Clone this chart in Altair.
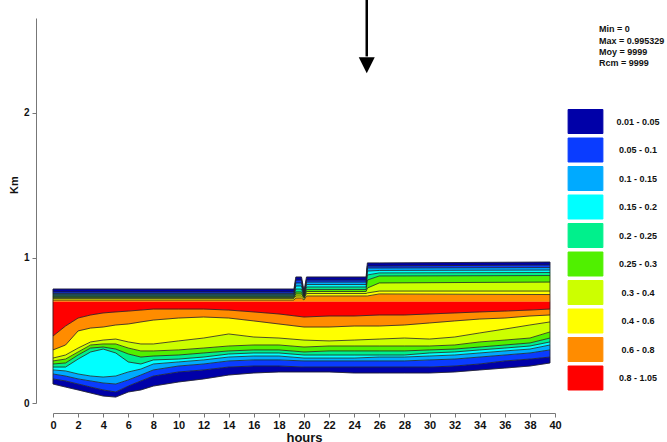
import altair as alt
import pandas as pd

# ---------------- data (km vs hours) ----------------
HOURS = [0, 1, 2, 3, 4, 5, 6, 7, 8, 10, 12, 14, 16, 18, 20, 22, 24, 26, 28, 30, 32, 34, 36, 38, 39.6]

# lower part of the profile: band boundaries from the ground surface upward
LOW_SURFACE = [0.131, 0.110, 0.090, 0.069, 0.048, 0.041, 0.076, 0.090, 0.117, 0.145, 0.166, 0.193, 0.207,
               0.214, 0.214, 0.214, 0.207, 0.207, 0.207, 0.207, 0.214, 0.228, 0.241, 0.255, 0.276]
LOW_005 = [0.166, 0.152, 0.131, 0.110, 0.090, 0.076, 0.117, 0.152, 0.186, 0.214, 0.228, 0.248, 0.255,
           0.255, 0.248, 0.248, 0.248, 0.248, 0.248, 0.248, 0.255, 0.269, 0.290, 0.303, 0.317]
LOW_010 = [0.200, 0.186, 0.166, 0.152, 0.138, 0.131, 0.159, 0.193, 0.228, 0.255, 0.269, 0.290, 0.297,
           0.297, 0.290, 0.290, 0.290, 0.290, 0.290, 0.297, 0.303, 0.317, 0.331, 0.345, 0.366]
LOW_015 = [0.228, 0.221, 0.200, 0.186, 0.179, 0.186, 0.214, 0.234, 0.269, 0.283, 0.297, 0.317, 0.324,
           0.324, 0.310, 0.310, 0.310, 0.317, 0.317, 0.324, 0.331, 0.345, 0.359, 0.372, 0.400]
LOW_020 = [0.248, 0.248, 0.303, 0.352, 0.372, 0.345, 0.283, 0.269, 0.297, 0.303, 0.317, 0.338, 0.345,
           0.345, 0.331, 0.331, 0.331, 0.331, 0.331, 0.345, 0.352, 0.366, 0.379, 0.393, 0.421]
LOW_025 = [0.269, 0.276, 0.331, 0.379, 0.386, 0.372, 0.338, 0.317, 0.324, 0.331, 0.345, 0.359, 0.366,
           0.366, 0.352, 0.359, 0.359, 0.359, 0.359, 0.366, 0.372, 0.386, 0.400, 0.414, 0.448]
LOW_030 = [0.290, 0.303, 0.352, 0.400, 0.407, 0.407, 0.379, 0.359, 0.359, 0.366, 0.379, 0.393, 0.400,
           0.400, 0.386, 0.393, 0.393, 0.393, 0.393, 0.393, 0.400, 0.421, 0.434, 0.448, 0.490]
LOW_040 = [0.310, 0.331, 0.379, 0.421, 0.434, 0.441, 0.421, 0.407, 0.407, 0.428, 0.448, 0.476, 0.455,
           0.448, 0.434, 0.428, 0.434, 0.441, 0.448, 0.441, 0.455, 0.483, 0.510, 0.538, 0.559]
LOW_060 = [0.366, 0.400, 0.497, 0.517, 0.524, 0.538, 0.545, 0.559, 0.572, 0.586, 0.593, 0.586, 0.566,
           0.545, 0.524, 0.524, 0.531, 0.531, 0.538, 0.552, 0.566, 0.579, 0.586, 0.600, 0.607]
LOW_080 = [0.462, 0.531, 0.586, 0.607, 0.621, 0.628, 0.634, 0.641, 0.648, 0.648, 0.648, 0.641, 0.628,
           0.614, 0.593, 0.600, 0.600, 0.607, 0.607, 0.614, 0.621, 0.628, 0.634, 0.641, 0.648]
MAX_LEVEL = 0.70  # height of the maximum (red core top)

# upper part of the profile: from the red core up to the top of the field
UP_HOURS = [0, 19.2, 19.35, 19.8, 20.0, 20.2, 24.95, 25.05, 26, 39.6]
UP_060 = [0.710, 0.710, 0.724, 0.724, 0.710, 0.738, 0.738, 0.738, 0.752, 0.748]
UP_040 = [0.721, 0.721, 0.738, 0.738, 0.720, 0.755, 0.755, 0.759, 0.772, 0.772]
UP_030 = [0.728, 0.728, 0.752, 0.752, 0.726, 0.769, 0.769, 0.793, 0.828, 0.834]
UP_025 = [0.734, 0.734, 0.766, 0.766, 0.731, 0.783, 0.783, 0.848, 0.876, 0.879]
UP_020 = [0.741, 0.741, 0.786, 0.786, 0.736, 0.800, 0.800, 0.883, 0.897, 0.900]
UP_015 = [0.748, 0.748, 0.807, 0.807, 0.741, 0.817, 0.817, 0.910, 0.914, 0.917]
UP_010 = [0.755, 0.755, 0.828, 0.828, 0.748, 0.834, 0.834, 0.931, 0.931, 0.934]
UP_005 = [0.766, 0.766, 0.848, 0.848, 0.755, 0.848, 0.848, 0.945, 0.945, 0.952]
UP_TOP = [0.786, 0.786, 0.869, 0.869, 0.772, 0.869, 0.869, 0.966, 0.966, 0.972]

BAND_LABELS = ["0.01 - 0.05", "0.05 - 0.1", "0.1 - 0.15", "0.15 - 0.2", "0.2 - 0.25",
               "0.25 - 0.3", "0.3 - 0.4", "0.4 - 0.6", "0.6 - 0.8", "0.8 - 1.05"]
BAND_COLORS = ["#0000A8", "#0A3CFF", "#00AAFF", "#00FFFF", "#00F08C",
               "#50F000", "#CCFF00", "#FFFF00", "#FF8C00", "#FF0000"]

STATS = ["Min = 0", "Max = 0.995329", "Moy = 9999", "Rcm = 9999"]
STATS_KM = [2.577, 2.499, 2.423, 2.347]
STATS_HOUR = 43.5
ARROW_HOUR = 25
ARROW_TOP_KM, ARROW_END_KM, ARROW_HEAD_KM = 2.78, 2.39, 2.33
Y_TITLE = "Km"
Y_TITLE_POS = (-3.0, 1.503)

# ---------------- build tables ----------------
low_bounds = [LOW_SURFACE, LOW_005, LOW_010, LOW_015, LOW_020, LOW_025, LOW_030,
              LOW_040, LOW_060, LOW_080, [MAX_LEVEL] * len(HOURS)]
up_bounds = [[MAX_LEVEL] * len(UP_HOURS), UP_060, UP_040, UP_030, UP_025, UP_020,
             UP_015, UP_010, UP_005, UP_TOP]

rows, lines = [], []
for i in range(10):
    for h, lo, hi in zip(HOURS, low_bounds[i], low_bounds[i + 1]):
        rows.append({"hour": h, "lo": lo, "hi": hi, "band": BAND_LABELS[i], "piece": f"L{i}"})
for j in range(9):
    band = 8 - j
    for h, lo, hi in zip(UP_HOURS, up_bounds[j], up_bounds[j + 1]):
        rows.append({"hour": h, "lo": lo, "hi": hi, "band": BAND_LABELS[band], "piece": f"U{j}"})
for k, b in enumerate(low_bounds[:-1]):
    for h, v in zip(HOURS, b):
        lines.append({"hour": h, "km": v, "lid": f"L{k}"})
for k, b in enumerate(up_bounds[1:]):
    for h, v in zip(UP_HOURS, b):
        lines.append({"hour": h, "km": v, "lid": f"U{k}"})
# left/right edges
for name, hrs, bl, bt in [("E0", HOURS[0], LOW_SURFACE[0], UP_TOP[0]), ("E1", HOURS[-1], LOW_SURFACE[-1], UP_TOP[-1])]:
    lines.append({"hour": hrs, "km": bl, "lid": name})
    lines.append({"hour": hrs, "km": bt, "lid": name})

band_df = pd.DataFrame(rows)
line_df = pd.DataFrame(lines)

FONT = "Liberation Sans"
xscale = alt.Scale(domain=[0, 40], nice=False)
yscale = alt.Scale(domain=[0, 2.655], nice=False, zero=False)
cscale = alt.Scale(domain=BAND_LABELS, range=BAND_COLORS)

x_axis = alt.Axis(values=list(range(0, 41, 2)), offset=10, grid=False, tickSize=4,
                  domainColor="#777", tickColor="#777", labelFont=FONT,
                  labelFontWeight="bold", labelFontSize=11, labelColor="#111",
                  labelPadding=2, labelOverlap=False, format="d",
                  title="hours", titleFont=FONT, titleFontSize=13,
                  titleFontWeight="bold", titlePadding=1, titleColor="#111", labelFlush=False)
y_axis = alt.Axis(values=[0, 1, 2], offset=17, grid=False, tickSize=4, format="d",
                  domainColor="#777", tickColor="#777", labelFont=FONT,
                  labelFontWeight="bold", labelFontSize=10, labelColor="#111",
                  labelPadding=3, title=None)

areas = alt.Chart(band_df).mark_area(interpolate="linear", strokeWidth=0.3).encode(
    x=alt.X("hour:Q", scale=xscale, axis=x_axis),
    y=alt.Y("lo:Q", scale=yscale, stack=False, axis=y_axis),
    y2="hi:Q",
    color=alt.Color("band:N", scale=cscale,
                    legend=alt.Legend(orient="none", legendX=520, legendY=91, title=None,
                                      symbolType="M-1.45,-1L1.45,-1L1.45,1L-1.45,1Z",
                                      symbolSize=576, symbolStrokeColor="#666",
                                      symbolStrokeWidth=1, symbolOpacity=1,
                                      labelFont=FONT, labelFontWeight="bold", labelFontSize=9,
                                      labelColor="#111", labelAlign="center", labelOffset=40,
                                      rowPadding=-0.5, padding=0, labelLimit=0)),
    stroke=alt.Color("band:N", scale=cscale, legend=None),
    detail="piece:N",
)

contours = alt.Chart(line_df).mark_line(stroke="#222222", strokeWidth=0.8, opacity=1).encode(
    x=alt.X("hour:Q", scale=xscale, axis=x_axis),
    y=alt.Y("km:Q", scale=yscale, axis=y_axis),
    detail="lid:N",
)

stats_df = pd.DataFrame({"t": STATS, "km": STATS_KM, "hour": [STATS_HOUR] * 4})
stats = alt.Chart(stats_df).mark_text(align="left", baseline="middle", font=FONT, fontSize=9,
                                      fontWeight="bold", color="#111").encode(
    x=alt.X("hour:Q", scale=xscale, axis=x_axis), y=alt.Y("km:Q", scale=yscale, axis=y_axis),
    text="t:N")

arrow_df = pd.DataFrame({"hour": [ARROW_HOUR], "top": [ARROW_TOP_KM], "end": [ARROW_END_KM],
                         "head": [ARROW_HEAD_KM]})
arrow_line = alt.Chart(arrow_df).mark_rule(color="black", strokeWidth=2.5).encode(
    x=alt.X("hour:Q", scale=xscale, axis=x_axis), y=alt.Y("top:Q", scale=yscale, axis=y_axis),
    y2="end:Q")
arrow_head = alt.Chart(arrow_df).mark_point(shape="M-1,-1L1,-1L0,1Z", size=256, filled=True,
                                            color="black", opacity=1).encode(
    x=alt.X("hour:Q", scale=xscale, axis=x_axis), y=alt.Y("head:Q", scale=yscale, axis=y_axis))

ytitle_df = pd.DataFrame({"hour": [Y_TITLE_POS[0]], "km": [Y_TITLE_POS[1]], "t": [Y_TITLE]})
ytitle = alt.Chart(ytitle_df).mark_text(angle=270, font=FONT, fontSize=11, fontWeight="bold",
                                        color="#111", baseline="middle").encode(
    x=alt.X("hour:Q", scale=xscale, axis=x_axis), y=alt.Y("km:Q", scale=yscale, axis=y_axis),
    text="t:N")

chart = alt.layer(areas, contours, stats, arrow_line, arrow_head, ytitle).properties(
    width=502, height=385,
    padding={"left": 53, "top": 18, "right": 112, "bottom": 39},
    autosize=alt.AutoSizeParams(type="none"),
).configure_view(stroke=None)

chart.save("out.html", embed_options={"renderer": "svg", "actions": False})
